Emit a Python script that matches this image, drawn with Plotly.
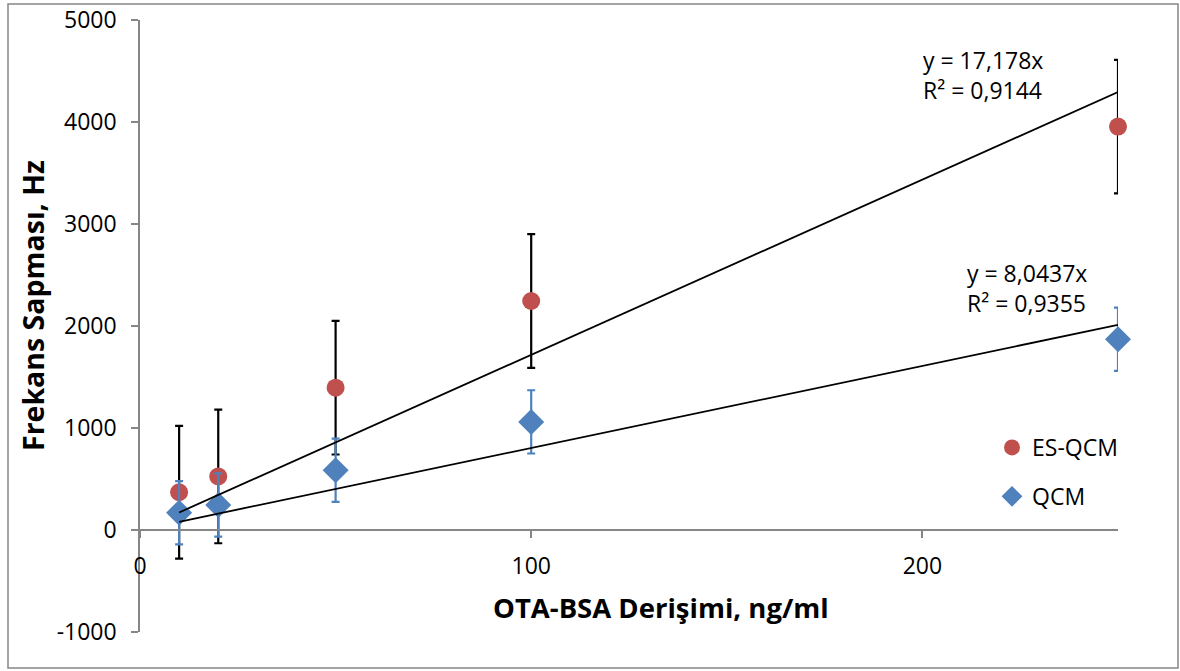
import plotly.graph_objects as go

# Concentration of OTA-BSA (ng/ml)
conc = [10, 20, 50, 100, 250]

# Frequency shift (Hz) and standard deviations
es_qcm = [370, 525, 1395, 2245, 3955]
es_qcm_err = [650, 655, 655, 655, 655]
qcm = [170, 245, 585, 1060, 1870]
qcm_err = [310, 310, 310, 310, 310]

# Linear fits through the origin
es_slope, es_r2 = 17.178, 0.9144
qcm_slope, qcm_r2 = 8.0437, 0.9355

x_ticks = [0, 100, 200]
y_ticks = [-1000, 0, 1000, 2000, 3000, 4000, 5000]

FONT = "Open Sans"
RED = "#C0504D"
BLUE = "#4F81BD"
AXIS_GRAY = "#868686"

W, H = 1180, 671
L, R, T, B = 140, 62, 20, 39
PW, PH = W - L - R, H - T - B


def px(xp):
    return (xp - L) / PW


def py(yp):
    return (H - B - yp) / PH


fig = go.Figure()

fig.add_trace(go.Scatter(
    x=conc, y=es_qcm, mode="markers", name="ES-QCM",
    legendgroup="es", cliponaxis=False,
    marker=dict(symbol="circle", size=18, color=RED),
    error_y=dict(type="data", array=es_qcm_err, color="black",
                 thickness=2.2, width=4),
))
fig.add_trace(go.Scatter(
    x=conc, y=qcm, mode="markers", name="QCM",
    legendgroup="qcm", cliponaxis=False,
    marker=dict(symbol="diamond", size=20, color=BLUE),
    error_y=dict(type="data", array=qcm_err, color=BLUE,
                 thickness=2.2, width=4),
))

# Trend lines across the measured range
x_fit = [min(conc), max(conc)]
fig.add_trace(go.Scatter(
    x=x_fit, y=[es_slope * v for v in x_fit], mode="lines", cliponaxis=False,
    line=dict(color="black", width=1.8), showlegend=False, hoverinfo="skip",
))
fig.add_trace(go.Scatter(
    x=x_fit, y=[qcm_slope * v for v in x_fit], mode="lines", cliponaxis=False,
    line=dict(color="black", width=1.8), showlegend=False, hoverinfo="skip",
))


def fmt(v, digits):
    return f"{v:.{digits}f}".replace(".", ",")


def label(xp, yp, text, size, angle=0):
    fig.add_annotation(
        x=px(xp), y=py(yp), xref="paper", yref="paper", showarrow=False,
        xanchor="center", yanchor="middle", text=text, textangle=angle,
        align="left", font=dict(family=FONT, size=size, color="black"),
    )


label(983, 75, f"y = {fmt(es_slope, 3)}x<br>R² = {fmt(es_r2, 4)}", 23)
label(1027, 288, f"y = {fmt(qcm_slope, 4)}x<br>R² = {fmt(qcm_r2, 4)}", 23)

# Axis titles
label(661, 607, "<b>OTA-BSA Derişimi, ng/ml</b>", 27.5)
label(33, 306, "<b>Frekans Sapması, Hz</b>", 28.5, angle=-90)

# Chart border
fig.add_shape(
    type="rect", xref="paper", yref="paper",
    x0=px(8), x1=px(1178), y0=py(668), y1=py(4),
    line=dict(color=AXIS_GRAY, width=1.5), layer="below",
)

y_min, y_max = y_ticks[0], y_ticks[-1]
fig.update_layout(
    width=W, height=H,
    margin=dict(l=L, r=R, t=T, b=B, autoexpand=False),
    paper_bgcolor="white", plot_bgcolor="white",
    font=dict(family=FONT, size=23, color="black"),
    xaxis=dict(
        range=[0, 250], tickvals=x_ticks, ticktext=[str(v) for v in x_ticks],
        showgrid=False, zeroline=False, automargin=False,
        showline=True, linecolor=AXIS_GRAY, linewidth=1.5,
        ticks="outside", ticklen=7, tickcolor=AXIS_GRAY, tickwidth=1.5,
        anchor="free", position=(0 - y_min) / (y_max - y_min),
        ticklabelstandoff=9,
        tickfont=dict(family=FONT, size=23, color="black"),
    ),
    yaxis=dict(
        range=[y_min, y_max], tickvals=y_ticks, ticktext=[str(v) for v in y_ticks],
        showgrid=False, zeroline=False, automargin=False,
        showline=True, linecolor=AXIS_GRAY, linewidth=1.5,
        ticks="outside", ticklen=7, tickcolor=AXIS_GRAY, tickwidth=1.5,
        ticklabelstandoff=10,
        tickfont=dict(family=FONT, size=23, color="black"),
    ),
    legend=dict(
        x=px(992), y=py(426), xanchor="left", yanchor="top",
        traceorder="grouped", tracegroupgap=16,
        font=dict(family=FONT, size=23, color="black"),
        bgcolor="rgba(0,0,0,0)",
    ),
    showlegend=True,
)

fig.write_html("out.html")
